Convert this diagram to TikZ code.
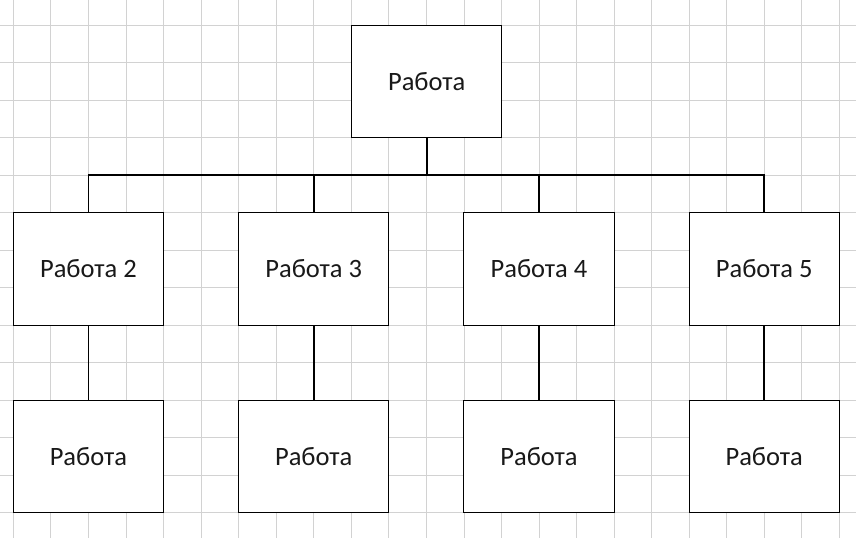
\documentclass[tikz,border=0pt]{standalone}
\usepackage{fontspec}
\setmainfont{Carlito}
\begin{document}
\begin{tikzpicture}[x=1pt,y=-1pt,
  box/.style={draw=black,line width=1pt,fill=white,minimum width=150.2pt,minimum height=112.5pt,inner sep=0pt,font=\fontsize{26.5}{30}\selectfont,text=black!90},
  conn/.style={draw=black,line width=1.7pt}]
\useasboundingbox (0,0) rectangle (856,538);
\fill[white] (0,0) rectangle (856,538);
% grid
\foreach \k in {0,...,22} \draw[gray!35,line width=0.8pt] ({13.3+37.55*\k},0) -- ({13.3+37.55*\k},538);
\foreach \k in {0,...,13} \draw[gray!35,line width=0.8pt] (0,{25+37.5*\k}) -- (856,{25+37.5*\k});
% nodes
\node[box] (top) at (426.7,81.25) {Работа};
\node[box] (w2) at (88.4,268.75) {Работа 2};
\node[box] (w3) at (313.7,268.75) {Работа 3};
\node[box] (w4) at (539,268.75) {Работа 4};
\node[box] (w5) at (764.2,268.75) {Работа 5};
\node[box] (b2) at (88.4,456.25) {Работа};
\node[box] (b3) at (313.7,456.25) {Работа};
\node[box] (b4) at (539,456.25) {Работа};
\node[box] (b5) at (764.2,456.25) {Работа};
\coordinate (bus) at (426.7,175);
% connectors
\foreach \n in {w2,w3,w4,w5} \draw[conn] (top.south) -- (bus) -| (\n.north);
\draw[conn] (w2.south) -- (b2.north);
\draw[conn] (w3.south) -- (b3.north);
\draw[conn] (w4.south) -- (b4.north);
\draw[conn] (w5.south) -- (b5.north);
\end{tikzpicture}
\end{document}
